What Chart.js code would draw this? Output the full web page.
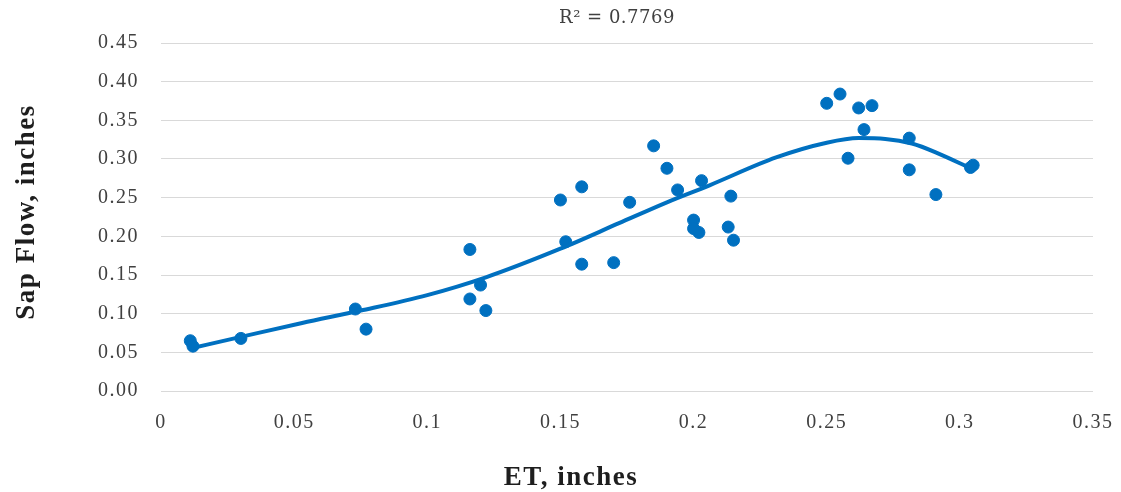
<!DOCTYPE html>
<html lang="en">
<head>
  <meta charset="UTF-8">
  <title>Sap Flow vs ET</title>
  <script src="https://cdn.jsdelivr.net/npm/chart.js"></script>
  <style>
    html, body { margin: 0; padding: 0; background: #fff; }
    #wrap { width: 1121px; height: 492px; }
  </style>
</head>
<body>
<div id="wrap"><canvas id="sapChart"></canvas></div>
<script>
  // observed points
  const etValues = [0.011, 0.012, 0.030, 0.073, 0.077, 0.116, 0.116, 0.120, 0.122,
    0.150, 0.152, 0.158, 0.158, 0.170, 0.176, 0.185, 0.190, 0.194, 0.200, 0.200, 0.202, 0.203,
    0.213, 0.214, 0.215, 0.250, 0.255, 0.258, 0.262, 0.264, 0.267, 0.281, 0.281, 0.291, 0.305, 0.304];
  const sapValues = [0.065, 0.058, 0.068, 0.106, 0.080, 0.183, 0.119, 0.137, 0.104,
    0.247, 0.193, 0.264, 0.164, 0.166, 0.244, 0.317, 0.288, 0.260, 0.221, 0.210, 0.205, 0.272,
    0.212, 0.252, 0.195, 0.372, 0.384, 0.301, 0.366, 0.338, 0.369, 0.327, 0.286, 0.254, 0.292, 0.289];

  // polynomial trendline
  const trendEt = [0.011, 0.030, 0.053, 0.075, 0.100, 0.122, 0.150, 0.172, 0.190, 0.206,
    0.231, 0.250, 0.262, 0.272, 0.282, 0.292, 0.304];
  const trendSap = [0.055, 0.070, 0.088, 0.104, 0.124, 0.147, 0.184, 0.217, 0.244, 0.266,
    0.302, 0.321, 0.327, 0.326, 0.320, 0.307, 0.288];

  const xTickLabels = ["0", "0.05", "0.1", "0.15", "0.2", "0.25", "0.3", "0.35"];
  const yTickLabels = ["0.00", "0.05", "0.10", "0.15", "0.20", "0.25", "0.30", "0.35", "0.40", "0.45"];
  const rSquared = "R\u00B2 = 0.7769";
  const xTitle = "ET, inches";
  const yTitle = "Sap Flow, inches";

  const blue = "#0070C0";
  const serif = "'Liberation Serif', 'Times New Roman', serif";

  // text that sits outside the plot: R² and axis titles
  const labels = {
    id: "labels",
    beforeDraw(chart) { chart.ctx.letterSpacing = "1.5px"; },
    afterDraw(chart) {
      const ctx = chart.ctx;
      const area = chart.chartArea;
      ctx.save();
      ctx.letterSpacing = "0.5px";
      ctx.font = "18px 'DejaVu Serif', serif";
      ctx.fillStyle = "#404040";
      ctx.textAlign = "center";
      ctx.textBaseline = "middle";
      ctx.fillText(rSquared, (area.left + area.right) / 2 - 10, 18);

      ctx.letterSpacing = "1.5px";
      ctx.font = "bold 27px " + serif;
      ctx.fillStyle = "#1e1e1e";
      ctx.textBaseline = "alphabetic";
      ctx.fillText(xTitle, 571, 485);

      ctx.translate(34, 212);
      ctx.rotate(-Math.PI / 2);
      ctx.fillText(yTitle, 0, 0);
      ctx.restore();
    }
  };

  const points = etValues.map((x, i) => ({ x: x, y: sapValues[i] }));
  const trend = trendEt.map((x, i) => ({ x: x, y: trendSap[i] }));

  new Chart(document.getElementById("sapChart"), {
    type: "scatter",
    data: {
      datasets: [{
        label: "Sap Flow",
        data: points,
        backgroundColor: blue,
        borderColor: blue,
        pointRadius: 6,
        pointHoverRadius: 6,
        order: 2
      }, {
        label: "Poly. trend",
        type: "line",
        data: trend,
        borderColor: blue,
        borderWidth: 4,
        pointRadius: 0,
        fill: false,
        cubicInterpolationMode: "monotone",
        order: 1
      }]
    },
    options: {
      responsive: true,
      maintainAspectRatio: false,
      animation: false,
      layout: { padding: { top: 43, right: 28, left: 0, bottom: 0 } },
      plugins: {
        legend: { display: false },
        tooltip: { enabled: false }
      },
      scales: {
        x: {
          type: "linear",
          min: 0,
          max: 0.35,
          afterFit(scale) {
            scale.height = 101;
            scale.paddingLeft = 0;
            scale.paddingRight = 0;
          },
          afterBuildTicks(scale) {
            scale.ticks = xTickLabels.map((t, i) => ({ value: i * 0.05 }));
          },
          grid: { display: false, drawTicks: false },
          border: { display: false },
          ticks: {
            padding: 20,
            color: "#404040",
            font: { family: serif, size: 20 },
            maxRotation: 0,
            callback: (v, i) => xTickLabels[i]
          }
        },
        y: {
          min: 0,
          max: 0.45,
          afterFit(scale) {
            scale.width = 161;
            scale.paddingTop = 0;
            scale.paddingBottom = 0;
          },
          afterBuildTicks(scale) {
            scale.ticks = yTickLabels.map((t, i) => ({ value: i * 0.05 }));
          },
          grid: { color: "#d9d9d9", lineWidth: 1, drawTicks: false },
          border: { display: false },
          ticks: {
            padding: 22,
            color: "#404040",
            font: { family: serif, size: 20 },
            callback: (v, i) => yTickLabels[i]
          }
        }
      }
    },
    plugins: [labels]
  });
</script>
</body>
</html>
